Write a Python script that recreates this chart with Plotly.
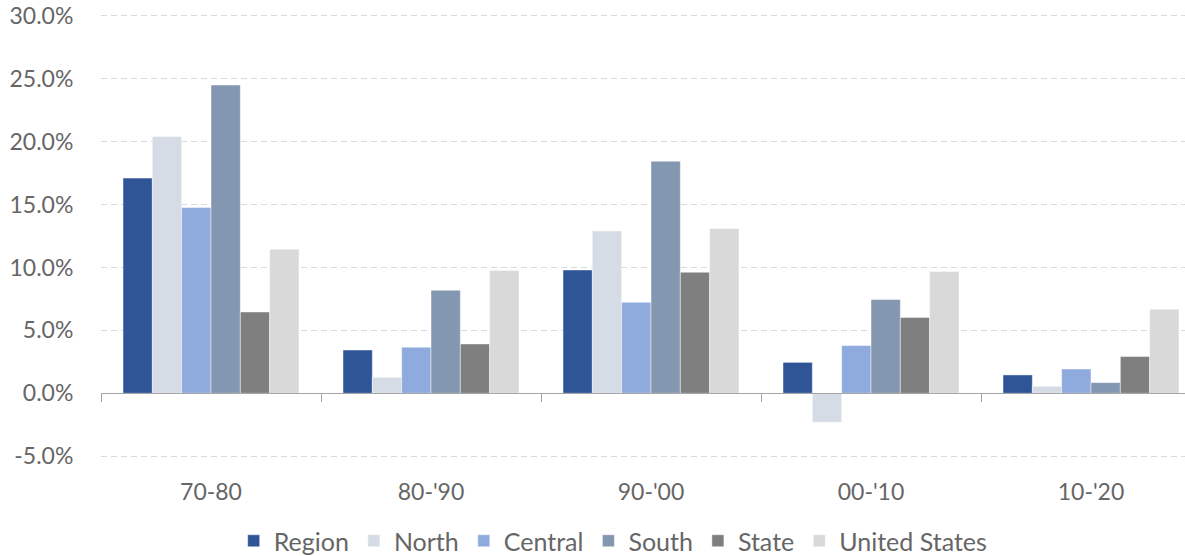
import numpy as np
import plotly.graph_objects as go

categories = ["70-80", "80-'90", "90-'00", "00-'10", "10-'20"]
region = [17.1, 3.44, 9.80, 2.46, 1.46]
north = [20.4, 1.27, 12.9, -2.30, 0.56]
central = [14.76, 3.66, 7.23, 3.79, 1.93]
south = [24.5, 8.19, 18.44, 7.45, 0.85]
state = [6.46, 3.92, 9.62, 6.02, 2.92]
united_states = [11.45, 9.75, 13.1, 9.67, 6.68]

y_tick_values = [-5, 0, 5, 10, 15, 20, 25, 30]
y_tick_labels = ["-5.0%", "0.0%", "5.0%", "10.0%", "15.0%", "20.0%", "25.0%", "30.0%"]

series_names = ["Region", "North", "Central", "South", "State", "United States"]
series_values = [region, north, central, south, state, united_states]
colors = ["#2F5597", "#D6DCE5", "#8FAADC", "#8497B0", "#7F7F7F", "#D9D9D9"]

FONT = "Lato"
TXT = "#666666"
y_range = [-5.3, 30.3]
n = len(categories)
x_range = [-0.5, 1084 / 220 - 0.5]

fig = go.Figure()
for name, vals, col in zip(series_names, series_values, colors):
    fig.add_trace(go.Bar(
        x=categories, y=vals, name=name,
        marker=dict(color=col, line=dict(color="rgba(255,255,255,0.6)", width=0.75)),
    ))

# invisible helper so the zero-baseline axis (xaxis2) is rendered
fig.add_trace(go.Scatter(
    x=x_range, y=[0, 0], xaxis="x2", yaxis="y", mode="lines",
    line=dict(width=0, color="rgba(0,0,0,0)"), opacity=0,
    showlegend=False, hoverinfo="skip",
))

fig.update_layout(
    width=1185, height=556,
    margin=dict(l=101, r=0, t=12, b=96, autoexpand=False),
    paper_bgcolor="white", plot_bgcolor="white",
    barmode="group", bargap=0.2, bargroupgap=0,
    font=dict(family=FONT, size=23, color=TXT),
    showlegend=True,
    legend=dict(
        orientation="h", x=0.4725, xanchor="center",
        yref="container", y=(556 - 541) / 556, yanchor="middle",
        font=dict(family=FONT, size=25, color=TXT),
        itemwidth=30, traceorder="normal",
        bgcolor="rgba(0,0,0,0)",
    ),
    xaxis=dict(
        type="category", range=x_range, automargin=False,
        showgrid=False, zeroline=False, showline=False,
        ticks="outside", ticklen=11, tickcolor="rgba(0,0,0,0)",
        tickfont=dict(family=FONT, size=23, color=TXT),
    ),
    xaxis2=dict(
        type="linear", overlaying="x", anchor="free", automargin=False,
        position=(0 - y_range[0]) / (y_range[1] - y_range[0]),
        range=x_range,
        tickmode="array", tickvals=list(np.arange(n + 1) - 0.5),
        showticklabels=False, ticks="outside", ticklen=8, tickwidth=1.25,
        tickcolor="#A6A6A6",
        showline=True, linecolor="#A6A6A6", linewidth=1.25,
        showgrid=False, zeroline=False,
    ),
    yaxis=dict(
        range=y_range, automargin=False,
        tickmode="array", tickvals=y_tick_values, ticktext=y_tick_labels,
        showgrid=True, gridcolor="#D9D9D9", gridwidth=1, griddash="6px,4px",
        zeroline=False, showline=False,
        ticks="outside", ticklen=22, tickcolor="rgba(0,0,0,0)",
        tickfont=dict(family=FONT, size=23, color=TXT),
    ),
)

fig.write_html("out.html")
